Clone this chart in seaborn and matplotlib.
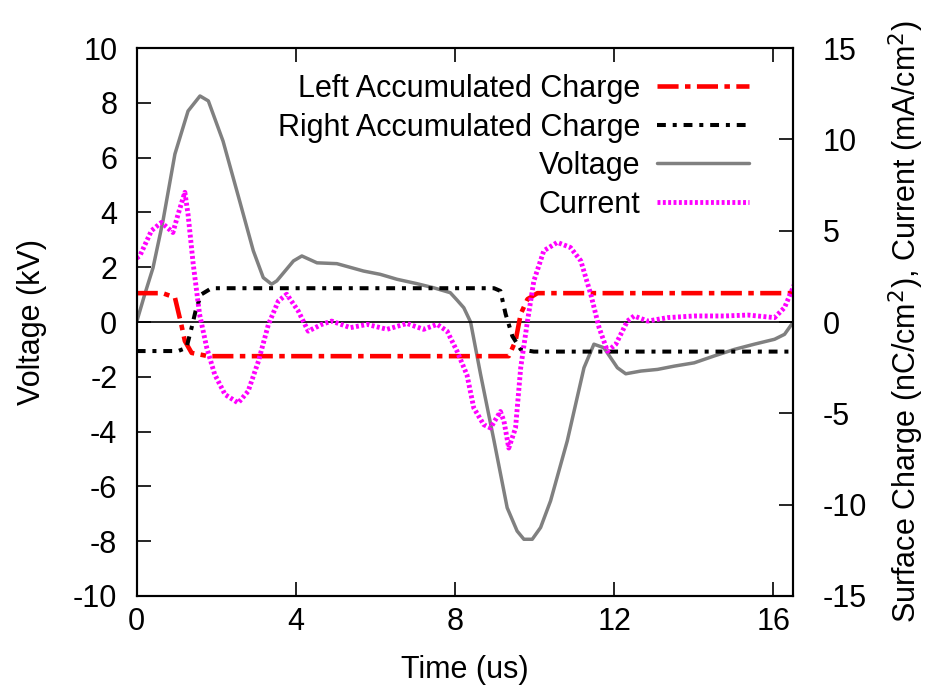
import numpy as np
import pandas as pd
import matplotlib
matplotlib.use("Agg")
import matplotlib.pyplot as plt
import seaborn as sns

# voltage (kV), left axis
volt_t = [0.0, 0.03, 0.2, 0.41, 0.66, 0.96, 1.29, 1.59, 1.8, 2.17, 2.59, 2.93, 3.18, 3.39,
          3.52, 3.94, 4.15, 4.53, 5.03, 5.7, 6.12, 6.54, 7.04, 7.46, 7.88, 8.05, 8.22, 8.39,
          8.64, 8.98, 9.31, 9.56, 9.73, 9.94, 10.15, 10.4, 10.82, 11.24, 11.49, 11.74, 12.08,
          12.29, 12.67, 13.09, 13.51, 14.01, 14.51, 15.02, 15.52, 16.03, 16.28, 16.5]
volt_v = [0.0, 0.16, 1.0, 1.98, 3.69, 6.13, 7.7, 8.25, 8.07, 6.6, 4.4, 2.6, 1.62, 1.38,
          1.5, 2.23, 2.41, 2.16, 2.13, 1.86, 1.74, 1.56, 1.40, 1.25, 1.07, 0.8, 0.52, 0.0,
          -1.9, -4.34, -6.78, -7.63, -7.93, -7.93, -7.5, -6.53, -4.34, -1.67, -0.81, -0.94, -1.67,
          -1.89, -1.79, -1.73, -1.61, -1.49, -1.24, -1.0, -0.81, -0.63, -0.45, 0.0]

# current (mA/cm^2), right axis
cur_t = [0.0, 0.08, 0.37, 0.62, 0.91, 1.04, 1.21, 1.29, 1.42, 1.58, 1.76, 1.96, 2.22, 2.55,
         2.8, 3.06, 3.31, 3.56, 3.77, 4.06, 4.31, 4.65, 4.9, 5.37, 5.79, 6.29, 6.79, 7.21,
         7.55, 7.8, 8.05, 8.3, 8.47, 8.72, 8.89, 9.14, 9.23, 9.35, 9.52, 9.65, 9.82, 9.98,
         10.23, 10.57, 10.9, 11.16, 11.41, 11.62, 11.83, 12.04, 12.33, 12.5, 12.84, 13.34,
         14.01, 14.77, 15.36, 16.03, 16.28, 16.53]
cur_i = [3.5, 3.63, 5.0, 5.45, 4.9, 5.9, 7.1, 5.9, 3.17, 0.42, -1.41, -2.87, -3.97, -4.43,
         -3.79, -2.14, -0.13, 1.15, 1.52, 0.6, -0.5, -0.13, 0.05, -0.31, -0.13, -0.4, -0.08, -0.4,
         -0.13, -0.5, -1.6, -2.9, -4.7, -5.62, -5.8, -4.9, -5.44, -6.9, -5.8, -2.5, 0.05, 2.25,
         3.9, 4.36, 4.08, 3.35, 1.52, -0.31, -1.6, -1.22, 0.05, 0.33, 0.05, 0.24,
         0.33, 0.33, 0.38, 0.24, 0.79, 2.07]

# accumulated charge (nC/cm^2), right axis
left_t = [0.0, 0.65, 0.96, 1.12, 1.21, 1.38, 1.8, 9.35, 9.52, 9.65, 9.82, 10.07, 16.5]
left_q = [1.58, 1.58, 1.34, -0.13, -1.04, -1.69, -1.87, -1.87, -1.04, 0.44, 1.25, 1.58, 1.58]

right_t = [0.0, 1.04, 1.25, 1.38, 1.5, 1.63, 1.88, 8.98, 9.14, 9.27, 9.44, 9.65, 9.98, 16.5]
right_q = [-1.59, -1.59, -1.41, -0.31, 0.79, 1.52, 1.85, 1.85, 1.7, 0.44, -0.77, -1.5, -1.62, -1.62]

left_ticks = list(range(-10, 11, 2))
right_ticks = list(range(-15, 16, 5))
x_ticks = [0, 4, 8, 12, 16]

sns.set_theme(style="ticks")
plt.rcParams["font.family"] = ["Liberation Sans", "DejaVu Sans"]
plt.rcParams["xtick.direction"] = "in"
plt.rcParams["ytick.direction"] = "in"
plt.rcParams["axes.unicode_minus"] = False
for k in ["text.color", "axes.labelcolor", "xtick.color", "ytick.color", "axes.edgecolor"]:
    plt.rcParams[k] = "black"

fig = plt.figure(figsize=(9.3, 6.91), dpi=100)
ax = fig.add_axes([0.147, 0.1375, 0.706, 0.793])
ax2 = ax.twinx()

sns.lineplot(x=volt_t, y=volt_v, ax=ax, color="#808080", lw=2.5, label="Voltage", legend=False)
ax.axhline(0, color="black", lw=1.2)

sns.lineplot(x=left_t, y=left_q, ax=ax2, color="#ff0000", lw=3.3,
             linestyle=(0, (4.6, 1.4, 1.2, 1.4)), label="Left Accumulated Charge", legend=False)
sns.lineplot(x=right_t, y=right_q, ax=ax2, color="black", lw=2.9,
             linestyle=(0, (2.2, 1.7, 1.0, 1.7)), label="Right Accumulated Charge", legend=False)
sns.lineplot(x=cur_t, y=cur_i, ax=ax2, color="#ff00ff", lw=3.5,
             linestyle=(0, (0.6, 0.5)), label="Current", legend=False)

ax.set_xlim(0, 16.5)
ax.set_ylim(-10, 10)
ax2.set_ylim(-15, 15)
ax.set_xticks(x_ticks)
ax.set_yticks(left_ticks)
ax2.set_yticks(right_ticks)

fs = 22
ax.tick_params(axis="x", top=True, labelsize=fs, length=10, width=1.2, pad=8)
ax.tick_params(axis="y", labelsize=fs, length=10, width=1.2, pad=14)
ax2.tick_params(axis="y", labelsize=fs, length=10, width=1.2, pad=21)
for sp in list(ax.spines.values()) + list(ax2.spines.values()):
    sp.set_linewidth(1.5)
    sp.set_color("black")

ax.set_xlabel("Time (us)", fontsize=fs, labelpad=13)
ax.set_ylabel("Voltage (kV)", fontsize=fs, labelpad=19)
ax2.set_ylabel("Surface Charge (nC/cm$^2$), Current (mA/cm$^2$)", fontsize=fs, labelpad=14)

h1, l1 = ax.get_legend_handles_labels()
h2, l2 = ax2.get_legend_handles_labels()
handles = [h2[0], h2[1], h1[0], h2[2]]
labels = [l2[0], l2[1], l1[0], l2[2]]
ax2.legend(handles, labels, loc="upper right", bbox_to_anchor=(0.972, 1.0), frameon=False,
           markerfirst=False, fontsize=fs, handlelength=3.0, handletextpad=0.55,
           labelspacing=0.28, borderaxespad=0.45)

fig.savefig("out.png", dpi=100)
